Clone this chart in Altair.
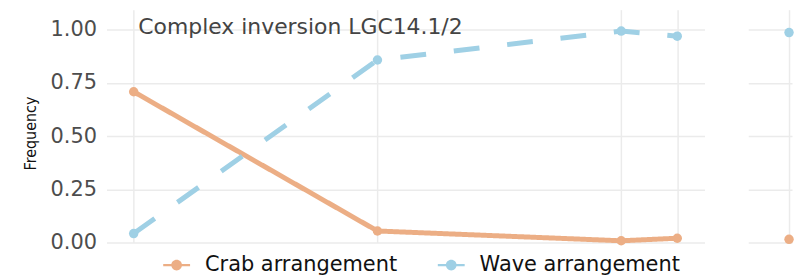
import altair as alt
import pandas as pd

# ---- data ----
positions = [0, 100, 200, 223]
crab_freq = [0.708, 0.054, 0.008, 0.020]
wave_freq = [0.042, 0.857, 0.993, 0.969]

side_position = [0]
side_crab = [0.015]
side_wave = [0.986]

series = ["Crab arrangement", "Wave arrangement"]
colors = ["#ECAE85", "#9FD0E5"]
title_text = "Complex inversion LGC14.1/2"
y_ticks = [0, 0.25, 0.5, 0.75, 1.0]

main_df = pd.DataFrame(
    {
        "position": positions + positions,
        "freq": crab_freq + wave_freq,
        "arrangement": [series[0]] * len(positions) + [series[1]] * len(positions),
    }
)
side_df = pd.DataFrame(
    {
        "position": side_position + side_position,
        "freq": side_crab + side_wave,
        "arrangement": [series[0]] * len(side_position) + [series[1]] * len(side_position),
    }
)
label_df = pd.DataFrame({"label": [title_text]})

GRID = "#EBEBEB"
FONT = "DejaVu Sans"

color_scale = alt.Scale(domain=series, range=colors)
dash_scale = alt.Scale(domain=series, range=[[1, 0], [26, 28]])
y_scale = alt.Scale(domain=[0, 1.0935], nice=False, zero=False)

legend_path = (
    "M-1,-0.09 L1,-0.09 L1,0.09 L-1,0.09 Z "
    "M0.4,0 A0.4,0.4 0 1,1 -0.4,0 A0.4,0.4 0 1,1 0.4,0 Z"
)
legend = alt.Legend(
    title=None,
    orient="none",
    legendX=57,
    legendY=243,
    direction="horizontal",
    symbolType=legend_path,
    symbolSize=729,
    symbolStrokeWidth=0,
    symbolDash=[1, 0],
    symbolOpacity=1,
    labelFont=FONT,
    labelFontSize=21,
    labelColor="#111111",
    labelOffset=15,
    labelLimit=400,
    columnPadding=40,
    padding=0,
)

# ---------------- main panel ----------------
x_main = alt.X(
    "position:Q",
    scale=alt.Scale(domain=[-11.15, 234.15], nice=False, zero=False),
    axis=alt.Axis(values=positions, labels=False, ticks=False, domain=False,
                  title=None, grid=True, gridColor=GRID, gridWidth=1.5),
)
y_main = alt.Y(
    "freq:Q",
    scale=y_scale,
    axis=alt.Axis(values=y_ticks, format=".2f", title="Frequency", ticks=False,
                  domain=False, grid=True, gridColor=GRID, gridWidth=1.5,
                  labelFont=FONT, labelFontSize=21, labelColor="#4D4D4D",
                  labelPadding=10, titleFont="DejaVu Sans Condensed",
                  titleFontSize=16, titleFontWeight="normal", titleColor="#111111",
                  titlePadding=12, titleY=124),
)

lines = alt.Chart(main_df).mark_line(strokeWidth=5, strokeCap="butt").encode(
    x=x_main,
    y=y_main,
    color=alt.Color("arrangement:N", scale=color_scale, legend=legend),
    strokeDash=alt.StrokeDash("arrangement:N", scale=dash_scale, legend=None),
)

points = alt.Chart(main_df).mark_point(filled=True, size=90, opacity=1).encode(
    x=x_main,
    y=y_main,
    color=alt.Color("arrangement:N", scale=color_scale, legend=legend),
)

title_mark = alt.Chart(label_df).mark_text(
    align="left", baseline="middle", font=FONT, fontSize=22, color="#444444"
).encode(x=alt.value(32), y=alt.value(17), text="label:N")

main = alt.layer(lines, points, title_mark).properties(
    width=601, height=234, view=alt.ViewBackground(strokeWidth=0, stroke="transparent")
)

# ---------------- side panel ----------------
x_side = alt.X(
    "position:Q",
    scale=alt.Scale(domain=[-16.73, 1.22], nice=False, zero=False),
    axis=alt.Axis(values=side_position, labels=False, ticks=False, domain=False,
                  title=None, grid=True, gridColor=GRID, gridWidth=1.5),
)
y_side = alt.Y(
    "freq:Q",
    scale=y_scale,
    axis=alt.Axis(values=y_ticks, labels=False, ticks=False, domain=False, title=None,
                  grid=True, gridColor=GRID, gridWidth=1.5),
)
side = alt.Chart(side_df).mark_point(filled=True, size=90, opacity=1).encode(
    x=x_side,
    y=y_side,
    color=alt.Color("arrangement:N", scale=color_scale, legend=legend),
).properties(
    width=44, height=234, view=alt.ViewBackground(strokeWidth=0, stroke="transparent")
)

chart = (
    alt.hconcat(main, side, spacing=44)
    .resolve_scale(color="shared")
    .properties(padding={"left": 14, "top": 1, "right": 0, "bottom": 0})
    .configure_view(stroke="transparent", strokeWidth=0)
    .configure(background="white")
)

chart.save("out.html", embed_options={"renderer": "svg", "actions": False})
